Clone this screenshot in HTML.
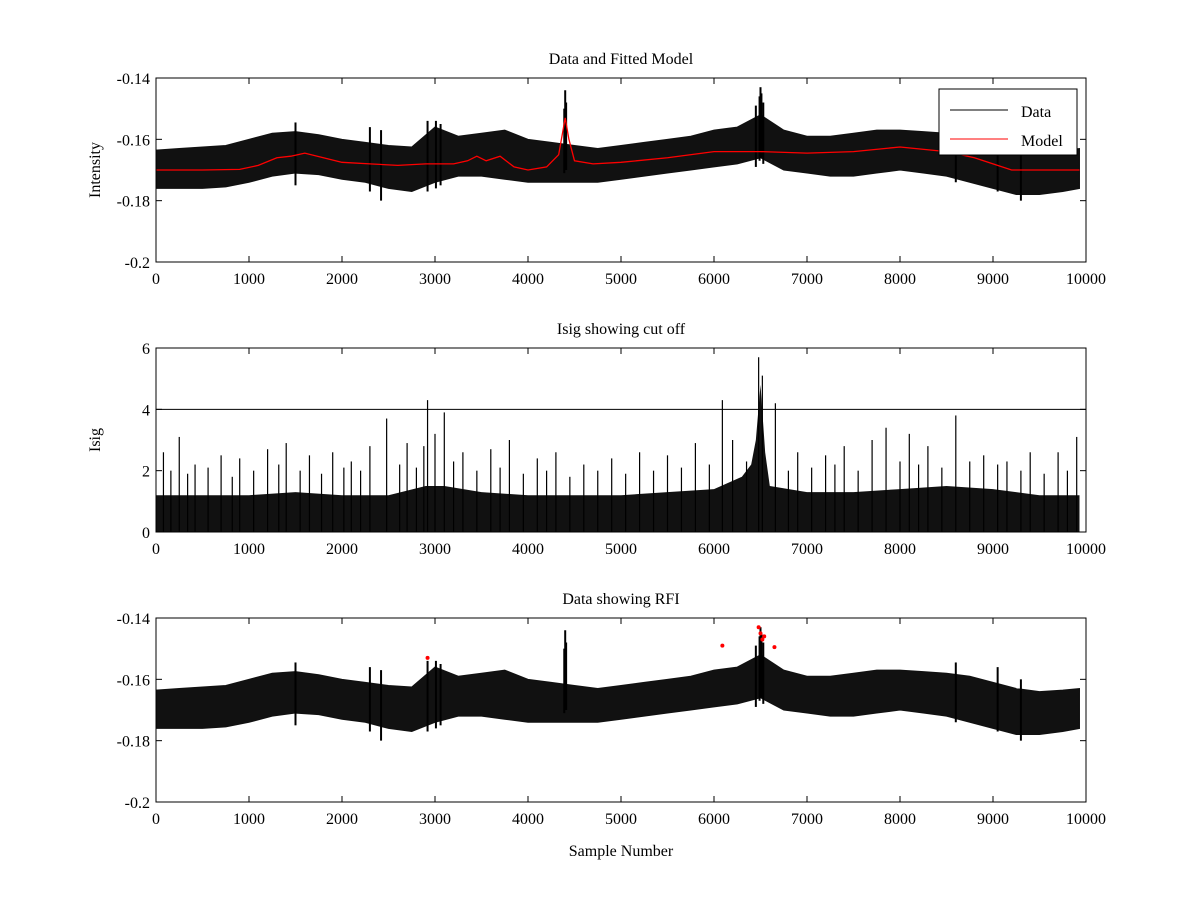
<!DOCTYPE html>
<html><head><meta charset="utf-8"><style>
html,body{margin:0;padding:0;background:#fff;}
svg{display:block;font-family:"Liberation Serif",serif;}
</style></head><body>
<svg id="fig" width="1200" height="900" viewBox="0 0 1200 900" xmlns="http://www.w3.org/2000/svg"></svg>
<script>
// ---- data ----
const envX = [0,250,500,750,1000,1250,1500,1750,2000,2250,2500,2750,3000,3250,3500,3750,4000,4250,4500,4750,5000,5250,5500,5750,6000,6250,6500,6750,7000,7250,7500,7750,8000,8250,8500,8750,9000,9250,9500,9750,9930];
const dataTop = [-0.1635,-0.1630,-0.1625,-0.1620,-0.1600,-0.1580,-0.1575,-0.1585,-0.1600,-0.1610,-0.1620,-0.1625,-0.1560,-0.1590,-0.1580,-0.1570,-0.1600,-0.1610,-0.1620,-0.1630,-0.1620,-0.1610,-0.1600,-0.1590,-0.1570,-0.1560,-0.1520,-0.1570,-0.1590,-0.1590,-0.1580,-0.1570,-0.1570,-0.1575,-0.1580,-0.1590,-0.1610,-0.1630,-0.1640,-0.1635,-0.1630];
const dataBot = [-0.1760,-0.1760,-0.1760,-0.1755,-0.1740,-0.1720,-0.1710,-0.1715,-0.1730,-0.1740,-0.1760,-0.1770,-0.1740,-0.1720,-0.1720,-0.1730,-0.1740,-0.1740,-0.1740,-0.1740,-0.1730,-0.1720,-0.1710,-0.1700,-0.1690,-0.1680,-0.1660,-0.1700,-0.1710,-0.1720,-0.1720,-0.1710,-0.1700,-0.1710,-0.1720,-0.1740,-0.1760,-0.1780,-0.1780,-0.1770,-0.1760];
const spikeX = [1500,2300,2420,2920,3010,3060,4390,4400,4410,6450,6490,6500,6510,6530,8600,9050,9300];
const spikeTop = [-0.1545,-0.1560,-0.1570,-0.1540,-0.1540,-0.1550,-0.1500,-0.1440,-0.1480,-0.1490,-0.1460,-0.1430,-0.1450,-0.1480,-0.1545,-0.1560,-0.1600];
const spikeBot = [-0.1750,-0.1770,-0.1800,-0.1770,-0.1760,-0.1750,-0.1710,-0.1680,-0.1700,-0.1690,-0.1670,-0.1650,-0.1660,-0.1680,-0.1740,-0.1770,-0.1800];
const modelX = [0,500,900,1100,1300,1450,1600,1800,2000,2300,2600,2900,3200,3350,3450,3550,3700,3850,4000,4200,4330,4400,4440,4500,4700,5000,5500,6000,6500,7000,7500,8000,8500,8800,9000,9200,9500,9930];
const modelY = [-0.1700,-0.1700,-0.1698,-0.1685,-0.1660,-0.1655,-0.1645,-0.1660,-0.1675,-0.1680,-0.1685,-0.1680,-0.1680,-0.1670,-0.1655,-0.1670,-0.1655,-0.1690,-0.1700,-0.1690,-0.1650,-0.1530,-0.1600,-0.1670,-0.1680,-0.1675,-0.1660,-0.1640,-0.1640,-0.1645,-0.1640,-0.1625,-0.1640,-0.1660,-0.1680,-0.1700,-0.1700,-0.1700];
const isigX = [0,500,1000,1500,2000,2500,2900,3100,3500,4000,4500,5000,5500,6000,6300,6400,6450,6500,6550,6600,7000,7500,8000,8500,9000,9500,9930];
const isigTop = [1.2,1.2,1.2,1.3,1.2,1.2,1.5,1.5,1.3,1.2,1.2,1.2,1.3,1.4,1.8,2.2,3.0,4.8,2.6,1.5,1.3,1.3,1.4,1.5,1.4,1.2,1.2];
const isigSpikeX = [80,250,420,700,900,1200,1400,1650,1900,2100,2300,2480,2700,2880,2920,3000,3100,3300,3600,3800,4100,4300,4600,4900,5200,5500,5800,6090,6200,6480,6520,6660,6900,7200,7400,7700,7850,8100,8300,8600,8900,9150,9400,9700,9900,
  160,340,560,820,1050,1320,1550,1780,2020,2200,2620,2800,3200,3450,3700,3950,4200,4450,4750,5050,5350,5650,5950,6350,6800,7050,7300,7550,8000,8200,8450,8750,9050,9300,9550,9800];
const isigSpikeY = [2.6,3.1,2.2,2.5,2.4,2.7,2.9,2.5,2.6,2.3,2.8,3.7,2.9,2.8,4.3,3.2,3.9,2.6,2.7,3.0,2.4,2.6,2.2,2.4,2.6,2.5,2.9,4.3,3.0,5.7,5.1,4.2,2.6,2.5,2.8,3.0,3.4,3.2,2.8,3.8,2.5,2.3,2.6,2.6,3.1,
  2.0,1.9,2.1,1.8,2.0,2.2,2.0,1.9,2.1,2.0,2.2,2.1,2.3,2.0,2.1,1.9,2.0,1.8,2.0,1.9,2.0,2.1,2.2,2.3,2.0,2.1,2.2,2.0,2.3,2.2,2.1,2.3,2.2,2.0,1.9,2.0];
const rfiX = [2920,6090,6480,6500,6520,6540,6650];
const rfiY = [-0.1530,-0.1490,-0.1430,-0.1450,-0.1470,-0.1460,-0.1495];
const xTicks = [0,1000,2000,3000,4000,5000,6000,7000,8000,9000,10000];
const yTicksA = [-0.2,-0.18,-0.16,-0.14];
const yTicksB = [0,2,4,6];

// ---- drawing ----
const NS="http://www.w3.org/2000/svg", svg=document.getElementById('fig');
function mk(tag,attrs,parent){const e=document.createElementNS(NS,tag);for(const k in attrs)e.setAttribute(k,attrs[k]);(parent||svg).appendChild(e);return e;}
const L=156,R=1086;
const sx=v=>L+(v/10000)*(R-L);
function axes(top,bot,y0,y1,ticks,name,title,ylabel,xlabel){
  const g=mk('g',{});  
  const sy=v=>bot-(v-y0)/(y1-y0)*(bot-top);
  mk('rect',{x:L,y:top,width:R-L,height:bot-top,fill:'#fff',stroke:'none'},g);
  const t=mk('text',{x:(L+R)/2,y:top-14,'text-anchor':'middle','font-size':16},g); t.textContent=title;
   
  xTicks.forEach(v=>{const x=sx(v);mk('line',{x1:x,x2:x,y1:bot,y2:bot-6,stroke:'#000'},g);mk('line',{x1:x,x2:x,y1:top,y2:top+6,stroke:'#000'},g);
    const tx=mk('text',{x:x,y:bot+22,'text-anchor':'middle','font-size':16},g);tx.textContent=v;});
  ticks.forEach(v=>{const y=sy(v);mk('line',{x1:L,x2:L+6,y1:y,y2:y,stroke:'#000'},g);mk('line',{x1:R,x2:R-6,y1:y,y2:y,stroke:'#000'},g);
    const ty=mk('text',{x:L-6,y:y+6,'text-anchor':'end','font-size':16},g);ty.textContent=v;});
  if(ylabel){const yl=mk('text',{x:0,y:0,'text-anchor':'middle','font-size':16,transform:`translate(100,${(top+bot)/2}) rotate(-90)`},g);yl.textContent=ylabel;
    }
  if(xlabel){const xl=mk('text',{x:(L+R)/2,y:bot+54,'text-anchor':'middle','font-size':16},g);xl.textContent=xlabel;
    }
  return {g,sy,top,bot};
}
function band(ax,name){
  let d='M'+envX.map((x,i)=>sx(x)+','+ax.sy(dataTop[i])).join('L');
  for(let i=envX.length-1;i>=0;i--) d+='L'+sx(envX[i])+','+ax.sy(dataBot[i]);
  const p=mk('path',{d:d+'Z',fill:'#111',stroke:'#111','stroke-width':1},ax.g);
  
  spikeX.forEach((x,i)=>{const l=mk('line',{x1:sx(x),x2:sx(x),y1:ax.sy(spikeTop[i]),y2:ax.sy(spikeBot[i]),stroke:'#000','stroke-width':2},ax.g);
    });
}
function frame(ax){mk('rect',{x:L,y:ax.top,width:R-L,height:ax.bot-ax.top,fill:'none',stroke:'#000'},ax.g);}

// panel 1
const a1=axes(78,262,-0.2,-0.14,yTicksA,'data-model-axes','Data and Fitted Model','Intensity');
band(a1,'data-trace');
const mp=mk('polyline',{points:modelX.map((x,i)=>sx(x)+','+a1.sy(modelY[i])).join(' '),fill:'none',stroke:'#f00','stroke-width':1.3},a1.g);

frame(a1);
const lg=mk('g',{},a1.g);
mk('rect',{x:939,y:89,width:138,height:66,fill:'#fff',stroke:'#000'},lg);
mk('line',{x1:950,x2:1008,y1:110,y2:110,stroke:'#000'},lg);
let t=mk('text',{x:1021,y:117,'font-size':16},lg);t.textContent='Data';
mk('line',{x1:950,x2:1008,y1:139,y2:139,stroke:'#f00'},lg);
t=mk('text',{x:1021,y:146,'font-size':16},lg);t.textContent='Model';

// panel 2
const a2=axes(348,532,0,6,yTicksB,'isig-axes','Isig showing cut off','Isig');
let d='M'+sx(isigX[0])+','+a2.sy(0)+isigX.map((x,i)=>'L'+sx(x)+','+a2.sy(isigTop[i])).join('')+'L'+sx(isigX[isigX.length-1])+','+a2.sy(0)+'Z';
const ip=mk('path',{d:d,fill:'#111'},a2.g);
isigSpikeX.forEach((x,i)=>{const l=mk('line',{x1:sx(x),x2:sx(x),y1:a2.sy(0),y2:a2.sy(isigSpikeY[i]),stroke:'#000','stroke-width':1.2},a2.g);
  });
const cl=mk('line',{x1:L,x2:R,y1:a2.sy(4),y2:a2.sy(4),stroke:'#000'},a2.g);

frame(a2);

// panel 3
const a3=axes(618,802,-0.2,-0.14,yTicksA,'rfi-axes','Data showing RFI','', 'Sample Number');
band(a3,'rfi-data-trace');
rfiX.forEach((x,i)=>{const c=mk('circle',{cx:sx(x),cy:a3.sy(rfiY[i]),r:2,fill:'#f00'},a3.g);
  });
frame(a3);
</script>
</body></html>
